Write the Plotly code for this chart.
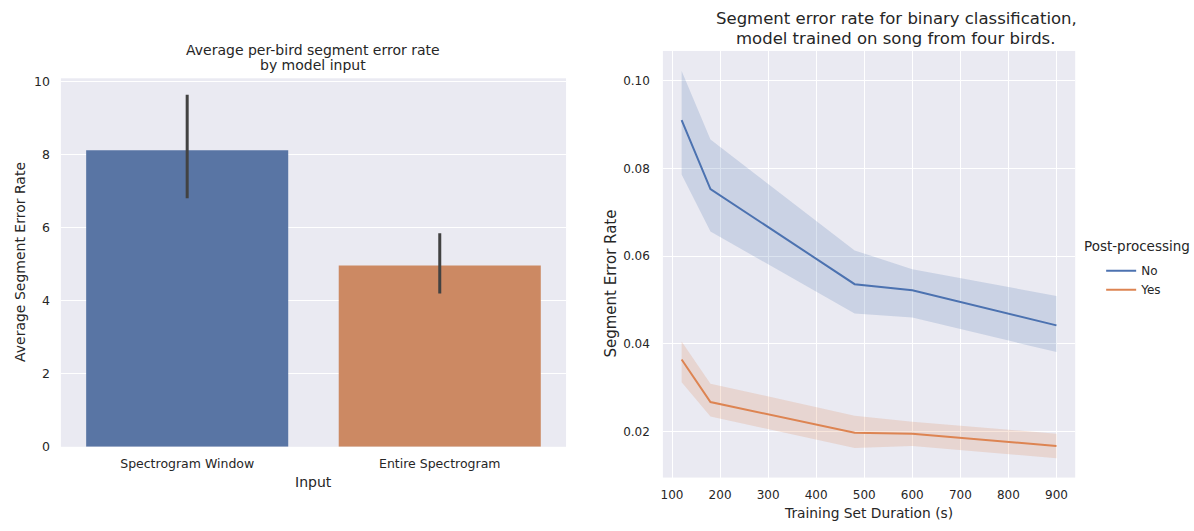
import plotly.graph_objects as go

# ---------------- data ----------------
# Left: average per-bird segment error rate by model input
input_categories = ["Spectrogram Window", "Entire Spectrogram"]
mean_error_rate = [8.11, 4.96]
ci_low = [6.80, 4.19]
ci_high = [9.63, 5.84]

# Right: segment error rate vs training set duration
durations = [120, 180, 480, 600, 900]
no_mean = [0.0910, 0.0753, 0.0536, 0.0522, 0.0442]
no_low = [0.0786, 0.0656, 0.0469, 0.0460, 0.0381]
no_high = [0.1022, 0.0866, 0.0613, 0.0570, 0.0509]
yes_mean = [0.0364, 0.0267, 0.0197, 0.0195, 0.0167]
yes_low = [0.0312, 0.0234, 0.0162, 0.0167, 0.0139]
yes_high = [0.0405, 0.0309, 0.0236, 0.0222, 0.0195]
legend_labels = ["No", "Yes"]
legend_title = "Post-processing"

W, H = 1194, 531
def px(x):
    return x / W
def py(y):
    return 1 - y / H

BG = "#EAEAF2"
TXT = "#262626"
FONT = "DejaVu Sans"
BLUE_LINE, ORANGE_LINE = "#4C72B0", "#DD8452"
BLUE_BAR, ORANGE_BAR = "#5975A4", "#CC8963"

fig = go.Figure()

# bars with error bars
fig.add_trace(go.Bar(
    x=input_categories, y=mean_error_rate,
    marker=dict(color=[BLUE_BAR, ORANGE_BAR], line=dict(width=0)),
    width=0.8,
    error_y=dict(type="data", symmetric=False,
                 array=[h - m for h, m in zip(ci_high, mean_error_rate)],
                 arrayminus=[m - l for m, l in zip(mean_error_rate, ci_low)],
                 color="#424242", thickness=3, width=0),
    showlegend=False, xaxis="x", yaxis="y",
))

# bands + lines
series = [
    (legend_labels[0], no_mean, no_low, no_high, BLUE_LINE, "rgba(76,114,176,0.2)"),
    (legend_labels[1], yes_mean, yes_low, yes_high, ORANGE_LINE, "rgba(221,132,82,0.2)"),
]
for name, m, lo, hi, col, fillcol in series:
    fig.add_trace(go.Scatter(
        x=durations + durations[::-1], y=hi + lo[::-1],
        fill="toself", fillcolor=fillcol, line=dict(width=0),
        mode="lines", hoverinfo="skip", showlegend=False,
        xaxis="x2", yaxis="y2",
    ))
for name, m, lo, hi, col, fillcol in series:
    fig.add_trace(go.Scatter(
        x=durations, y=m, mode="lines", name=name,
        line=dict(color=col, width=2),
        xaxis="x2", yaxis="y2",
    ))

def axis_common(size=12):
    return dict(showline=False, zeroline=False, gridcolor="white", gridwidth=1,
                tickfont=dict(family=FONT, size=size, color=TXT), ticks="")

fig.update_layout(
    width=W, height=H,
    margin=dict(l=0, r=0, t=0, b=0),
    paper_bgcolor="white", plot_bgcolor=BG,
    font=dict(family=FONT, color=TXT),
    xaxis=dict(domain=[px(59), px(565)], range=[-0.5, 1.5], showgrid=False,
               anchor="y", ticklabelstandoff=8, **axis_common(12.5)),
    yaxis=dict(domain=[py(452), py(75)], range=[0, 10.08], dtick=2,
               anchor="x", ticklabelstandoff=10, **axis_common(12.5)),
    xaxis2=dict(domain=[px(662), px(1075)], range=[81, 939], dtick=100,
                anchor="y2", showgrid=True, ticklabelstandoff=8, **axis_common(12)),
    yaxis2=dict(domain=[py(483.5), py(47)], range=[0.00948, 0.1068],
                tickvals=[0.02, 0.04, 0.06, 0.08, 0.10],
                ticktext=["0.02", "0.04", "0.06", "0.08", "0.10"],
                anchor="x2", showgrid=True, ticklabelstandoff=12, **axis_common(12)),
    legend=dict(
        x=px(1101), y=py(257), xanchor="left", yanchor="top",
        bgcolor="rgba(0,0,0,0)",
        font=dict(family=FONT, size=12, color=TXT),
        tracegroupgap=0, itemwidth=30,
    ),
)

ann = [
    dict(text="Average per-bird segment error rate", x=px(312), y=py(46), font=dict(size=14)),
    dict(text="by model input", x=px(312), y=py(61), font=dict(size=14)),
    dict(text="Segment error rate for binary classification,", x=px(896), y=py(14), font=dict(size=16.5)),
    dict(text="model trained on song from four birds.", x=px(895), y=py(34), font=dict(size=16.5)),
    dict(text="Average Segment Error Rate", x=px(18), y=py(263), textangle=-90,
         font=dict(size=14)),
    dict(text="Input", x=px(312), y=py(488), font=dict(size=14)),
    dict(text="Segment Error Rate", x=px(610), y=py(285), textangle=-90,
         font=dict(size=15)),
    dict(text="Training Set Duration (s)", x=px(868), y=py(520), font=dict(size=13.8)),
    dict(text=legend_title, x=px(1137), y=py(247), font=dict(size=13.5)),
]
for a in ann:
    a.update(xref="paper", yref="paper", showarrow=False,
             xanchor="center", yanchor="middle")
    a["font"].update(family=FONT, color=TXT)
fig.update_layout(annotations=ann)

fig.write_html("out.html")
